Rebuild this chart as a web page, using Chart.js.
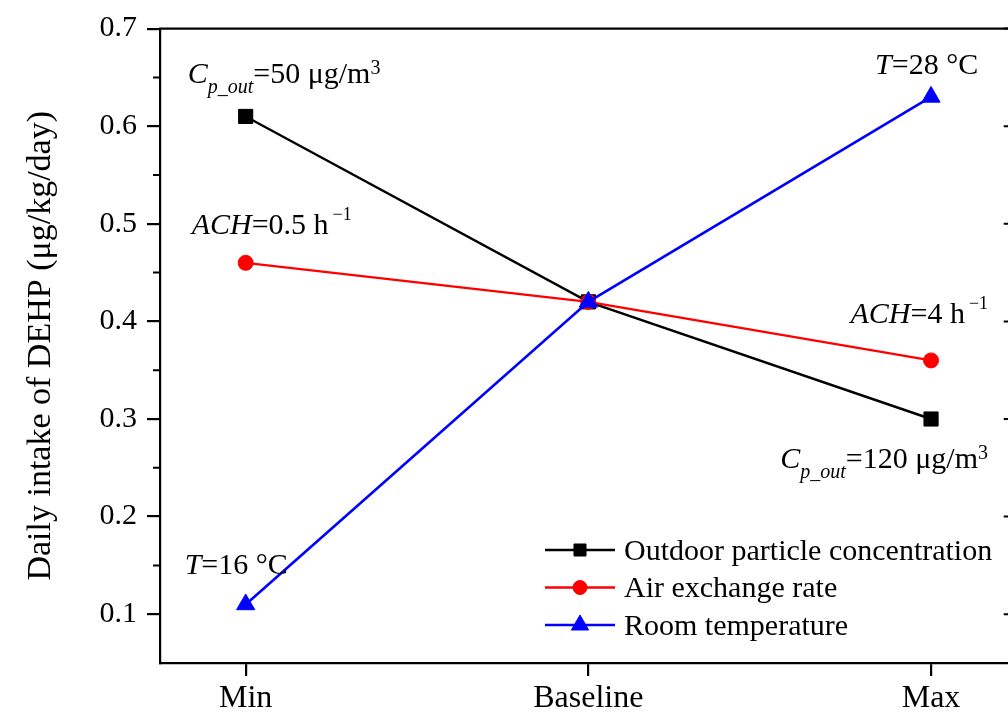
<!DOCTYPE html>
<html><head><meta charset="utf-8">
<style>
html,body{margin:0;padding:0;overflow:hidden;background:#fff;width:1008px;height:713px}
#wrap{position:absolute;left:0;top:0;width:1030px;height:713px}
canvas{display:block}
</style>
<script src="https://cdn.jsdelivr.net/npm/chart.js@4.4.1/dist/chart.umd.min.js"></script>
</head><body><div id="wrap"><canvas id="c" width="1030" height="713"></canvas></div>
<script>
// ---- data ----
const categories = ['Min', 'Baseline', 'Max'];
const seriesNames = ['Outdoor particle concentration', 'Air exchange rate', 'Room temperature'];
const outdoorParticle = [0.61, 0.42, 0.30];
const airExchange = [0.46, 0.42, 0.36];
const roomTemperature = [0.11, 0.42, 0.63];
const yTicks = [0.1, 0.2, 0.3, 0.4, 0.5, 0.6, 0.7];
const yMinorTicks = [0.15, 0.25, 0.35, 0.45, 0.55, 0.65];
const yTitle = 'Daily intake of DEHP (μg/kg/day)';
// annotation texts: [text, style] pieces (i = italic, sub = subscript, sup = superscript)
const labelOutdoorMin = [['C', 'i'], ['p_out', 'isub'], ['=50 μg/m', ''], ['3', 'sup']];
const labelAirMin = [['ACH', 'i'], ['=0.5 h', ''], ['−1', 'sup2']];
const labelTempMin = [['T', 'i'], ['=16 °C', '']];
const labelTempMax = [['T', 'i'], ['=28 °C', '']];
const labelAirMax = [['ACH', 'i'], ['=4 h', ''], ['−1', 'sup2']];
const labelOutdoorMax = [['C', 'i'], ['p_out', 'isub'], ['=120 μg/m', ''], ['3', 'sup']];

const FONT = "'Liberation Serif','Times New Roman',serif";
const toPts = arr => arr.map((v, i) => ({x: i, y: v}));

// annotation placement (series index, point index, pixel offset, alignment)
const annots = [
  {ds: 0, i: 0, parts: labelOutdoorMin, dx: -58, dy: -33, align: 'left'},
  {ds: 1, i: 0, parts: labelAirMin, dx: -54, dy: -29, align: 'left'},
  {ds: 2, i: 0, parts: labelTempMin, dx: -61, dy: -30, align: 'left'},
  {ds: 2, i: 2, parts: labelTempMax, dx: -56, dy: -23, align: 'left'},
  {ds: 1, i: 2, parts: labelAirMax, dx: 57, dy: -37, align: 'right'},
  {ds: 0, i: 2, parts: labelOutdoorMax, dx: 57, dy: 49, align: 'right'}
];

function segFont(style) {
  if (style === 'i') return 'italic 30px ' + FONT;
  if (style === 'isub') return 'italic 20px ' + FONT;
  if (style === 'sup') return '20px ' + FONT;
  if (style === 'sup2') return '18px ' + FONT;
  return '30px ' + FONT;
}
function segDy(style) {
  if (style === 'isub') return 10;
  if (style === 'sup') return -9;
  if (style === 'sup2') return -14;
  return 0;
}
function segGap(style) { return style === 'sup2' ? 4 : 0; }

function drawMarker(ctx, style, x, y, r, color) {
  ctx.save();
  ctx.fillStyle = color; ctx.strokeStyle = color; ctx.lineWidth = 1;
  ctx.beginPath();
  if (style === 'rect') {
    const s = r * Math.SQRT1_2;
    ctx.rect(x - s, y - s, 2 * s, 2 * s);
  } else if (style === 'triangle') {
    for (let k = 0; k < 3; k++) {
      const a = k * 2 * Math.PI / 3;
      const px = x + Math.sin(a) * r, py = y - Math.cos(a) * r;
      k === 0 ? ctx.moveTo(px, py) : ctx.lineTo(px, py);
    }
    ctx.closePath();
  } else {
    ctx.arc(x, y, r, 0, Math.PI * 2);
  }
  ctx.fill(); ctx.stroke();
  ctx.restore();
}

const decor = {
  id: 'decor',
  afterDraw(chart) {
    const {ctx, chartArea: ca, scales: {x, y}} = chart;
    ctx.save();
    ctx.strokeStyle = '#000';
    ctx.lineWidth = 2.2;
    // top and right frame
    ctx.beginPath();
    ctx.moveTo(ca.left - 1, ca.top); ctx.lineTo(ca.right, ca.top); ctx.lineTo(ca.right, ca.bottom);
    ctx.stroke();
    // minor ticks (left outward) and right inward ticks
    ctx.lineWidth = 2;
    ctx.beginPath();
    yMinorTicks.forEach(v => {
      const py = y.getPixelForValue(v);
      ctx.moveTo(ca.left, py); ctx.lineTo(ca.left - 7, py);
      ctx.moveTo(ca.right, py); ctx.lineTo(ca.right - 7, py);
    });
    yTicks.forEach(v => {
      const py = y.getPixelForValue(v);
      ctx.moveTo(ca.right, py); ctx.lineTo(ca.right - 13, py);
    });
    ctx.stroke();

    // annotations
    ctx.fillStyle = '#000';
    ctx.textBaseline = 'alphabetic';
    ctx.textAlign = 'left';
    annots.forEach(a => {
      const val = chart.data.datasets[a.ds].data[a.i];
      const px = x.getPixelForValue(val.x) + a.dx;
      const py = y.getPixelForValue(val.y) + a.dy;
      let total = 0;
      const widths = a.parts.map(([t, s]) => { ctx.font = segFont(s); const w = ctx.measureText(t).width + segGap(s); total += w; return w; });
      let cx = a.align === 'right' ? px - total : px;
      a.parts.forEach(([t, s], k) => {
        ctx.font = segFont(s);
        ctx.fillText(t, cx + segGap(s), py + segDy(s));
        cx += widths[k];
      });
    });

    // legend (inside plot, lower right)
    const lx0 = ca.right - 471.7, lx1 = lx0 + 70, tx = lx0 + 79;
    const ly0 = ca.bottom - 113, lstep = 37.5;
    ctx.font = '30px ' + FONT;
    ctx.textBaseline = 'middle';
    chart.data.datasets.forEach((d, k) => {
      const ly = ly0 + k * lstep;
      ctx.strokeStyle = d.borderColor; ctx.lineWidth = 2.4;
      ctx.beginPath(); ctx.moveTo(lx0, ly); ctx.lineTo(lx1, ly); ctx.stroke();
      drawMarker(ctx, d.pointStyle, (lx0 + lx1) / 2, ly, d.legendRadius, d.borderColor);
      ctx.fillStyle = '#000';
      ctx.fillText(d.label, tx, ly + 2);
    });
    ctx.restore();
  }
};

new Chart(document.getElementById('c'), {
  type: 'line',
  data: {
    datasets: [
      {label: seriesNames[0], data: toPts(outdoorParticle), borderColor: '#000000', backgroundColor: '#000000',
       pointStyle: 'rect', pointRadius: 10, pointBorderWidth: 1, borderWidth: 2.4, order: 2, legendRadius: 8.5},
      {label: seriesNames[1], data: toPts(airExchange), borderColor: '#ff0000', backgroundColor: '#ff0000',
       pointStyle: 'circle', pointRadius: 7.5, pointBorderWidth: 1, borderWidth: 2.4, order: 1, legendRadius: 7},
      {label: seriesNames[2], data: toPts(roomTemperature), borderColor: '#0000ff', backgroundColor: '#0000ff',
       pointStyle: 'triangle', pointRadius: 10.5, pointBorderWidth: 1, borderWidth: 2.6, order: 0, legendRadius: 10}
    ]
  },
  options: {
    responsive: false,
    animation: false,
    devicePixelRatio: 1,
    layout: {padding: {top: 28.6, right: 13.3, left: 0, bottom: 0}},
    elements: {line: {tension: 0}},
    plugins: {legend: {display: false}, tooltip: {enabled: false}},
    scales: {
      x: {
        type: 'linear', min: -0.25, max: 2.25,
        afterBuildTicks: s => { s.ticks = categories.map((c, i) => ({value: i})); },
        afterFit: s => { s.height = 50; },
        ticks: {font: {family: FONT, size: 32}, color: '#000', padding: 3, maxRotation: 0,
                callback: v => categories[v]},
        grid: {drawOnChartArea: false, drawTicks: true, tickLength: 13, color: '#000', lineWidth: 2.2},
        border: {display: true, color: '#000', width: 2.2}
      },
      y: {
        type: 'linear', min: 0.05, max: 0.7,
        afterBuildTicks: s => { s.ticks = yTicks.map(v => ({value: v})); },
        afterFit: s => { s.width = 160; },
        ticks: {font: {family: FONT, size: 30}, color: '#000', padding: 10,
                callback: v => Number(v).toFixed(1)},
        grid: {drawOnChartArea: false, drawTicks: true, tickLength: 13, color: '#000', lineWidth: 2.2},
        border: {display: true, color: '#000', width: 2.2},
        title: {display: true, text: yTitle, color: '#000', font: {family: FONT, size: 34},
                padding: {top: 21, bottom: 0}}
      }
    }
  },
  plugins: [decor]
});
</script>
</body></html>
